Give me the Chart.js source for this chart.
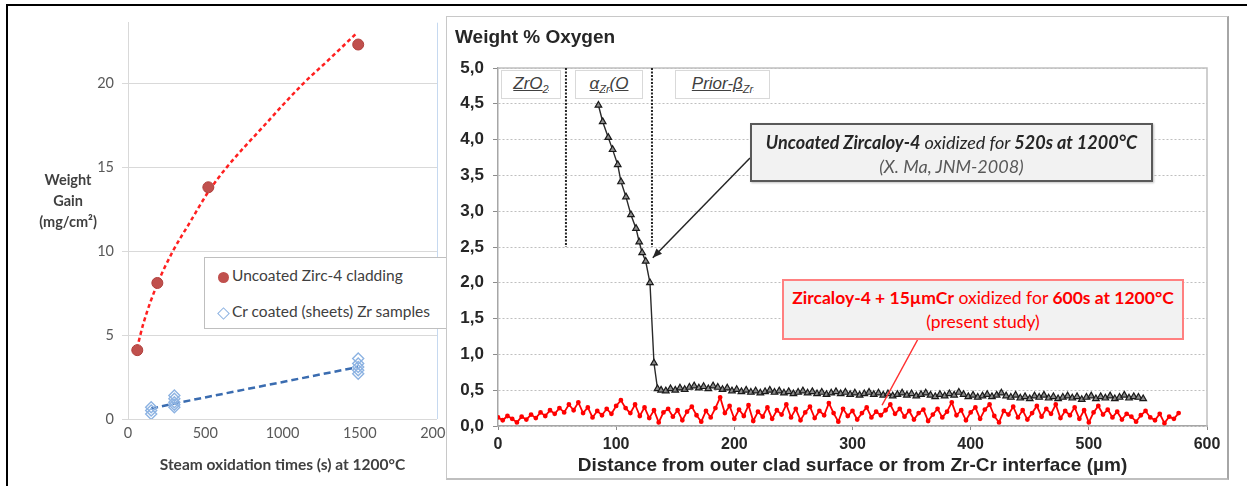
<!DOCTYPE html>
<html>
<head>
<meta charset="utf-8">
<script src="https://cdn.jsdelivr.net/npm/chart.js@4.4.1/dist/chart.umd.min.js"></script>
<style>
  body { margin: 0; width: 1247px; height: 486px; overflow: hidden; position: relative; background: #fff; font-family: Lato, sans-serif; }
  #frameTop { position: absolute; left: 6px; top: 4px; width: 1241px; height: 2px; background: #000; }
  #frameLeft { position: absolute; left: 6px; top: 4px; width: 2px; height: 482px; background: #000; }
  #leftWrap { position: absolute; left: 8px; top: 6px; width: 460px; height: 480px; }
  #gainTitle { position: absolute; left: 23px; top: 169px; width: 90px; text-align: center; font: bold 14.5px Lato, sans-serif; line-height: 21px; color: #404040; }
  #gainLegend { position: absolute; left: 204px; top: 257px; width: 250px; height: 72px; box-sizing: border-box; border: 1px solid #bfbfbf; background: #fff; font: 15.5px Lato, sans-serif; color: #404040; }
  #gainLegend .item { position: absolute; left: 27px; white-space: nowrap; }
  #gainLegend .dot { position: absolute; left: 13px; top: 14px; width: 11px; height: 11px; border-radius: 50%; background: #c0504d; }
  #gainLegend .dia { position: absolute; left: 14px; top: 51px; width: 7px; height: 7px; border: 1px solid #8db3e2; transform: rotate(45deg); }
  #rightPanel { position: absolute; left: 446px; top: 16px; width: 783px; height: 464px; box-sizing: border-box; border: 1px solid #c8c8c8; border-right: 2px solid #a6a6a6; border-bottom: 2px solid #bfbfbf; background: #fff; }
  #oxyTitle { position: absolute; left: 8px; top: 9px; font: bold 19px "Liberation Sans", Arial, sans-serif; color: #262626; }
  .phase { position: absolute; top: 53px; height: 29px; box-sizing: border-box; border: 1px solid #d9d9d9; background: #fff; text-align: center; font: italic 17px "Liberation Sans", Arial, sans-serif; line-height: 26px; color: #404040; text-decoration: underline; }
  .phase sub { font-size: 11px; }
  .callout { position: absolute; box-sizing: border-box; background: #f2f2f2; text-align: center; font-family: Lato, sans-serif; line-height: 24px; padding-top: 5px; white-space: nowrap; }
  #calloutMa { left: 303px; top: 106px; width: 403px; height: 59px; border: 2px solid #595959; box-shadow: 1px 1px 2px rgba(0,0,0,0.25); color: #262626; font-style: italic; font-size: 18px; }
  #calloutCr { left: 335px; top: 262px; width: 402px; height: 61px; border: 2px solid #ff8080; color: #ff0000; font-size: 17.5px; }
</style>
</head>
<body>
<div id="frameTop"></div>
<div id="frameLeft"></div>
<div id="leftWrap"><canvas id="gain" width="460" height="480"></canvas></div>
<div id="gainTitle">Weight<br>Gain<br>(mg/cm²)</div>
<div id="gainLegend">
  <span class="dot"></span><span class="item" style="top:8px">Uncoated Zirc-4 cladding</span>
  <span class="dia"></span><span class="item" style="top:44px">Cr coated (sheets) Zr samples</span>
</div>
<div id="rightPanel">
  <canvas id="oxygen" width="780" height="462"></canvas>
  <div id="oxyTitle">Weight % Oxygen</div>
  <div class="phase" style="left:54px;width:60px">ZrO<sub>2</sub></div>
  <div class="phase" style="left:128px;width:68px">α<sub>Zr</sub>(O</div>
  <div class="phase" style="left:228px;width:95px">Prior-β<sub>Zr</sub></div>
  <div class="callout" id="calloutMa"><b>Uncoated Zircaloy-4</b> oxidized for <b>520s at 1200°C</b><br><span style="color:#595959">(X. Ma, JNM-2008)</span></div>
  <div class="callout" id="calloutCr"><b>Zircaloy-4 + 15µmCr</b> oxidized for <b>600s at 1200°C</b><br>(present study)</div>
</div>
<script>
// left panel: weight gain vs steam oxidation time at 1200°C
const uncoatedGain = [[60, 4.1], [190, 8.1], [520, 13.8], [1490, 22.3]];
const coatedGain = [
  [150, 0.3], [150, 0.5], [150, 0.7],
  [300, 0.7], [300, 0.85], [300, 1.0], [300, 1.2], [300, 1.4],
  [1490, 2.7], [1490, 2.9], [1490, 3.1], [1490, 3.3], [1490, 3.6]
];
const uncoatedFit = [[58, 4.2], [100, 5.7], [188, 8.0], [291, 10.0], [400, 11.7], [518, 13.5], [640, 15.0], [874, 17.4], [1126, 19.9], [1300, 21.4], [1482, 23.0]];
const coatedFit = [[150, 0.62], [300, 0.92], [1490, 3.1]];
const gainYTicks = [0, 5, 10, 15, 20];

// right panel: oxygen profiles (µm, wt%)
const phaseBounds = [57.5, 130.3];
const phaseLineBottom = 2.5;
const maPointer = [131, 2.35];
const crPointer = [325, 0.29];
const oxyUncoated = [
  [85, 4.48], [88.6, 4.25], [93.3, 4.03], [97, 3.86], [101.3, 3.65], [104.1, 3.41], [108.3, 3.2],
  [112.5, 2.95], [116.8, 2.76], [119.5, 2.57], [122, 2.42], [125, 2.3], [128.6, 2.0], [132, 0.88], [135, 0.52],
  [138, 0.50], [142, 0.49], [146, 0.52], [150, 0.50], [154, 0.53], [158, 0.51], [162, 0.54], [166, 0.56],
  [170, 0.53], [174, 0.55], [178, 0.52], [182, 0.56], [186, 0.54], [190, 0.51], [194, 0.53], [198, 0.49],
  [202, 0.51], [206, 0.48], [210, 0.50], [214, 0.47], [218, 0.49], [222, 0.46], [226, 0.48], [230, 0.50],
  [234, 0.47], [238, 0.49], [242, 0.46], [246, 0.48], [250, 0.45], [254, 0.47], [258, 0.49], [262, 0.46],
  [266, 0.48], [270, 0.45], [274, 0.47], [278, 0.44], [282, 0.46], [286, 0.48], [290, 0.45], [294, 0.47],
  [298, 0.44], [302, 0.46], [306, 0.43], [310, 0.45], [314, 0.47], [318, 0.44], [322, 0.46], [326, 0.43],
  [330, 0.45], [334, 0.42], [338, 0.44], [342, 0.46], [346, 0.43], [350, 0.45], [354, 0.42], [358, 0.44],
  [362, 0.46], [366, 0.43], [370, 0.41], [374, 0.44], [378, 0.42], [382, 0.45], [386, 0.43], [390, 0.47],
  [394, 0.44], [398, 0.41], [402, 0.43], [406, 0.40], [410, 0.42], [414, 0.44], [418, 0.41], [422, 0.43],
  [426, 0.46], [430, 0.42], [434, 0.40], [438, 0.43], [442, 0.39], [446, 0.41], [450, 0.38], [454, 0.42],
  [458, 0.40], [462, 0.43], [466, 0.39], [470, 0.41], [474, 0.38], [478, 0.40], [482, 0.42], [486, 0.39],
  [490, 0.41], [494, 0.37], [498, 0.40], [502, 0.42], [506, 0.38], [510, 0.41], [514, 0.39], [518, 0.42],
  [522, 0.38], [526, 0.40], [530, 0.43], [534, 0.39], [538, 0.41], [542, 0.40], [546, 0.38]
];
const oxyCoated = [
  [0, 0.12], [4, 0.08], [8, 0.14], [12, 0.10], [16, 0.05], [20, 0.13], [24, 0.09], [28, 0.16], [32, 0.11],
  [36, 0.19], [40, 0.14], [44, 0.22], [48, 0.17], [52, 0.25], [56, 0.19], [60, 0.30], [64, 0.22], [68, 0.33],
  [72, 0.18], [76, 0.26], [80, 0.12], [84, 0.21], [88, 0.15], [92, 0.24], [96, 0.17], [100, 0.28], [104, 0.36],
  [108, 0.25], [112, 0.18], [116, 0.30], [120, 0.14], [124, 0.26], [128, 0.11], [132, 0.22], [136, 0.05],
  [140, 0.19], [144, 0.24], [148, 0.13], [152, 0.22], [156, 0.08], [160, 0.20], [164, 0.27], [168, 0.15],
  [172, 0.06], [176, 0.21], [180, 0.12], [184, 0.25], [188, 0.40], [192, 0.18], [196, 0.28], [200, 0.10],
  [204, 0.23], [208, 0.14], [212, 0.29], [216, 0.07], [220, 0.20], [224, 0.13], [228, 0.26], [232, 0.10],
  [236, 0.22], [240, 0.16], [244, 0.30], [248, 0.12], [252, 0.24], [256, 0.08], [260, 0.19], [264, 0.27],
  [268, 0.11], [272, 0.21], [276, 0.15], [280, 0.32], [284, 0.18], [288, 0.06], [292, 0.24], [296, 0.14],
  [300, 0.21], [304, 0.09], [308, 0.18], [312, 0.26], [316, 0.12], [320, 0.20], [324, 0.15], [328, 0.22],
  [332, 0.30], [336, 0.17], [340, 0.24], [344, 0.13], [348, 0.21], [352, 0.09], [356, 0.18], [360, 0.23],
  [364, 0.07], [368, 0.16], [372, 0.24], [376, 0.12], [380, 0.20], [384, 0.33], [388, 0.15], [392, 0.22],
  [396, 0.08], [400, 0.19], [404, 0.26], [408, 0.10], [412, 0.23], [416, 0.30], [420, 0.14], [424, 0.05],
  [428, 0.21], [432, 0.16], [436, 0.27], [440, 0.12], [444, 0.22], [448, 0.09], [452, 0.18], [456, 0.28],
  [460, 0.13], [464, 0.24], [468, 0.17], [472, 0.30], [476, 0.11], [480, 0.21], [484, 0.15], [488, 0.26],
  [492, 0.10], [496, 0.22], [500, 0.05], [504, 0.19], [508, 0.28], [512, 0.16], [516, 0.23], [520, 0.12],
  [524, 0.20], [528, 0.09], [532, 0.17], [536, 0.13], [540, 0.06], [544, 0.15], [548, 0.21], [552, 0.12],
  [556, 0.08], [560, 0.17], [564, 0.04], [568, 0.13], [572, 0.10], [576, 0.18]
];

const pts = arr => arr.map(([x, y]) => ({ x, y }));

new Chart(document.getElementById('gain'), {
  type: 'scatter',
  data: {
    datasets: [
      { data: pts(uncoatedGain), pointRadius: 5.5, backgroundColor: '#c0504d', borderColor: '#b0403d', borderWidth: 1, order: 0 },
      { data: pts(coatedGain), pointStyle: 'rectRot', pointRadius: 5.5, backgroundColor: 'rgba(255,255,255,0)', borderColor: '#8db3e2', borderWidth: 1.4, order: 0 },
      { type: 'line', data: pts(uncoatedFit), borderColor: '#ff2020', borderWidth: 2.5, borderDash: [4, 3], pointRadius: 0, cubicInterpolationMode: 'monotone', order: 1 },
      { type: 'line', data: pts(coatedFit), borderColor: '#3a6cb0', borderWidth: 2.5, borderDash: [7, 4], pointRadius: 0, order: 1 }
    ]
  },
  options: {
    responsive: false,
    animation: false,
    layout: { padding: { top: 16, right: 31, left: 0, bottom: 0 } },
    plugins: { legend: { display: false }, tooltip: { enabled: false } },
    scales: {
      x: {
        type: 'linear', min: 0, max: 2000,
        ticks: { stepSize: 500, padding: 6, color: '#595959', font: { family: 'Lato', size: 14.5 }, callback: v => String(v) },
        grid: { drawTicks: false, color: c => (c.tick && c.tick.value === 2000) ? '#c6d9f0' : 'rgba(0,0,0,0)' },
        border: { display: false },
        title: { display: true, text: 'Steam oxidation times (s) at 1200°C', color: '#404040', font: { family: 'Lato', size: 15.5, weight: 'bold' }, padding: { top: 0, bottom: 12 } },
        afterFit: s => { s.height = 67; }
      },
      y: {
        min: 0, max: 23.6,
        afterBuildTicks: s => { s.ticks = gainYTicks.map(v => ({ value: v })); },
        ticks: { padding: 8, color: '#595959', font: { family: 'Lato', size: 14.5 } },
        grid: { color: '#d9d9d9', tickLength: 6 },
        border: { color: '#d9d9d9' },
        afterFit: s => { s.width = 120; }
      }
    }
  }
});

const oxygenDecor = {
  id: 'oxygenDecor',
  beforeDatasetsDraw(chart) {
    const { ctx, chartArea: a, scales: { x, y } } = chart;
    ctx.save();
    ctx.strokeStyle = '#c0c0c0';
    ctx.lineWidth = 1.5;
    ctx.beginPath();
    ctx.moveTo(a.left, a.top); ctx.lineTo(a.right, a.top); ctx.lineTo(a.right, a.bottom);
    ctx.stroke();
    ctx.strokeStyle = '#262626';
    ctx.lineWidth = 2;
    ctx.setLineDash([2, 1.5]);
    phaseBounds.forEach(b => {
      const px = x.getPixelForValue(b);
      ctx.beginPath();
      ctx.moveTo(px, y.getPixelForValue(5));
      ctx.lineTo(px, y.getPixelForValue(phaseLineBottom));
      ctx.stroke();
    });
    ctx.restore();
  },
  afterDatasetsDraw(chart) {
    const { ctx, scales: { x, y } } = chart;
    ctx.save();
    // pointer from the X. Ma callout
    const sx = 303, sy = 141;
    const tx = x.getPixelForValue(maPointer[0]), ty = y.getPixelForValue(maPointer[1]);
    ctx.strokeStyle = '#262626'; ctx.fillStyle = '#262626'; ctx.lineWidth = 1.5;
    ctx.beginPath(); ctx.moveTo(sx, sy); ctx.lineTo(tx, ty); ctx.stroke();
    const ang = Math.atan2(ty - sy, tx - sx);
    ctx.beginPath();
    ctx.moveTo(tx, ty);
    ctx.lineTo(tx - 10 * Math.cos(ang - 0.4), ty - 10 * Math.sin(ang - 0.4));
    ctx.lineTo(tx - 10 * Math.cos(ang + 0.4), ty - 10 * Math.sin(ang + 0.4));
    ctx.closePath(); ctx.fill();
    // pointer from the present study callout
    ctx.strokeStyle = '#ff3030'; ctx.lineWidth = 1.5;
    ctx.beginPath();
    ctx.moveTo(471, 322);
    ctx.lineTo(x.getPixelForValue(crPointer[0]), y.getPixelForValue(crPointer[1]));
    ctx.stroke();
    ctx.restore();
  }
};

const axisFont = { family: '"Liberation Sans", Arial, sans-serif', size: 16, weight: 'bold' };

new Chart(document.getElementById('oxygen'), {
  type: 'line',
  data: {
    datasets: [
      { data: pts(oxyUncoated), borderColor: '#2a2a2a', borderWidth: 1.4, pointStyle: 'triangle', pointRadius: 3.8, pointBackgroundColor: '#8c8c8c', pointBorderColor: '#1a1a1a', pointBorderWidth: 1.2 },
      { data: pts(oxyCoated), borderColor: '#ff0000', borderWidth: 1.8, pointRadius: 1.5, pointBackgroundColor: '#ff0000', pointBorderColor: '#ff0000' }
    ]
  },
  options: {
    responsive: false,
    animation: false,
    layout: { padding: { top: 51, right: 20, left: 0, bottom: 0 } },
    plugins: { legend: { display: false }, tooltip: { enabled: false } },
    scales: {
      x: {
        type: 'linear', min: 0, max: 600,
        ticks: { stepSize: 100, padding: 5, color: '#262626', font: axisFont },
        grid: { drawOnChartArea: false, tickLength: 4, color: '#8c8c8c' },
        border: { color: '#a6a6a6', width: 1.5 },
        title: { display: true, text: 'Distance from outer clad surface or from Zr-Cr interface (µm)', color: '#262626', font: { family: '"Liberation Sans", Arial, sans-serif', size: 19, weight: 'bold' }, padding: { top: 0, bottom: 2 } },
        afterFit: s => { s.height = 53; }
      },
      y: {
        min: 0, max: 5,
        ticks: { stepSize: 0.5, padding: 9, color: '#262626', font: { family: '"Liberation Sans", Arial, sans-serif', size: 17, weight: 'bold' }, callback: v => v.toFixed(1).replace('.', ',') },
        grid: { color: '#bfbfbf', tickLength: 5, tickColor: '#8c8c8c' },
        border: { color: '#a6a6a6', width: 1.5, dash: [2, 2] },
        afterFit: s => { s.width = 51; }
      }
    }
  },
  plugins: [oxygenDecor]
});
</script>
</body>
</html>
